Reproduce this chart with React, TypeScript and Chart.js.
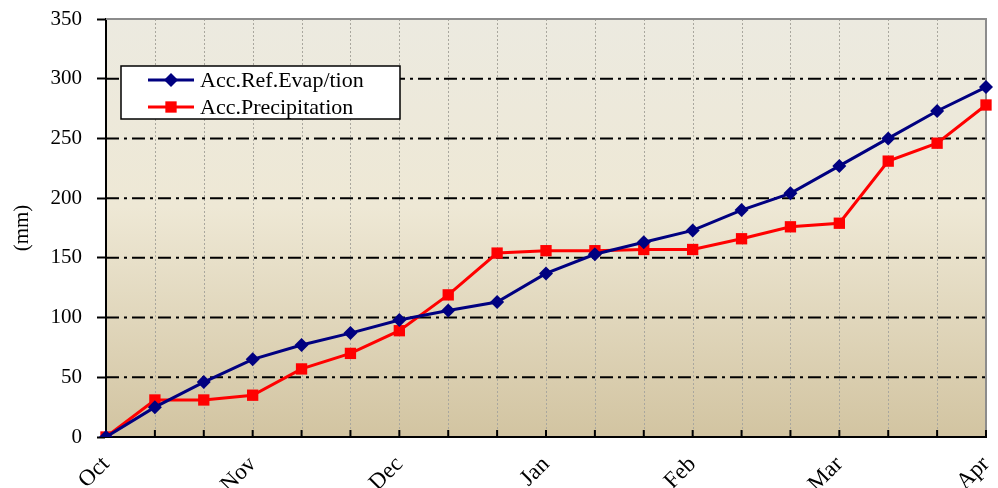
import React, { useEffect, useRef } from "react";
import { Chart, registerables } from "chart.js";

Chart.register(...registerables);

const labels = ["Oct", "", "", "Nov", "", "", "Dec", "", "", "Jan", "", "", "Feb", "", "", "Mar", "", "", "Apr"];
const evapName = "Acc.Ref.Evap/tion";
const precipName = "Acc.Precipitation";
const evap = [0, 25, 46, 65, 77, 87, 98, 106, 113, 137, 153, 163, 173, 190, 204, 227, 250, 273, 293];
const precip = [0, 31, 31, 35, 57, 70, 89, 119, 154, 156, 156, 157, 157, 166, 176, 179, 231, 246, 278];
const yMin = 0;
const yMax = 350;
const yStep = 50;
const yTitle = "(mm)";

const FONT = "'Liberation Serif', 'Times New Roman', serif";
const NAVY = "#000080";
const RED = "#FF0000";

function drawMarker(ctx: CanvasRenderingContext2D, style: string, x: number, y: number, r: number, color: string) {
  ctx.save();
  ctx.fillStyle = color;
  ctx.beginPath();
  if (style === "rectRot") {
    ctx.moveTo(x, y - r);
    ctx.lineTo(x + r, y);
    ctx.lineTo(x, y + r);
    ctx.lineTo(x - r, y);
    ctx.closePath();
  } else {
    const s = r * Math.SQRT1_2;
    ctx.rect(x - s, y - s, 2 * s, 2 * s);
  }
  ctx.fill();
  ctx.restore();
}

const decorPlugin = {
  id: "decor",
  beforeDraw(chart: any) {
    const { ctx, chartArea } = chart;
    const { left, top, right, bottom } = chartArea;
    const g = ctx.createLinearGradient(0, top, 0, bottom);
    g.addColorStop(0, "#ECEAE0");
    g.addColorStop(0.45, "#EEE8D5");
    g.addColorStop(1, "#D2C4A1");
    ctx.save();
    ctx.fillStyle = g;
    ctx.fillRect(left, top, right - left, bottom - top);
    ctx.restore();
  },
  beforeDatasetsDraw(chart: any) {
    const { ctx, chartArea, scales } = chart;
    const { left, top, right, bottom } = chartArea;
    const xs = scales.x;
    const ys = scales.y;
    ctx.save();
    ctx.strokeStyle = "#A9A79E";
    ctx.lineWidth = 1;
    ctx.setLineDash([2, 2]);
    for (let i = 1; i < labels.length - 1; i++) {
      const x = Math.round(xs.getPixelForValue(i)) + 0.5;
      ctx.beginPath();
      ctx.moveTo(x, top);
      ctx.lineTo(x, bottom);
      ctx.stroke();
    }
    ctx.strokeStyle = "#000000";
    ctx.lineWidth = 2;
    ctx.setLineDash([13, 5, 3, 5]);
    for (let v = yMin + yStep; v < yMax; v += yStep) {
      const y = ys.getPixelForValue(v);
      ctx.beginPath();
      ctx.moveTo(left, y);
      ctx.lineTo(right, y);
      ctx.stroke();
    }
    ctx.setLineDash([]);
    ctx.strokeStyle = "#8C8C8C";
    ctx.lineWidth = 2;
    ctx.beginPath();
    ctx.moveTo(left, top);
    ctx.lineTo(right, top);
    ctx.lineTo(right, bottom);
    ctx.stroke();
    ctx.strokeStyle = "#000000";
    ctx.lineWidth = 2;
    for (let i = 1; i < labels.length; i++) {
      const x = xs.getPixelForValue(i);
      ctx.beginPath();
      ctx.moveTo(x, bottom);
      ctx.lineTo(x, bottom - 7);
      ctx.stroke();
    }
    ctx.beginPath();
    ctx.moveTo(left - 1, bottom);
    ctx.lineTo(right + 1, bottom);
    ctx.stroke();
    ctx.restore();
  },
  afterDatasetsDraw(chart: any) {
    const { ctx, chartArea } = chart;
    const x0 = chartArea.left + 15;
    const y0 = chartArea.top + 47;
    const w = 279;
    const h = 53;
    ctx.save();
    ctx.fillStyle = "#FFFFFF";
    ctx.fillRect(x0, y0, w, h);
    ctx.strokeStyle = "#000000";
    ctx.lineWidth = 1.5;
    ctx.strokeRect(x0, y0, w, h);
    const rows = [
      { name: evapName, color: NAVY, style: "rectRot", r: 7, y: y0 + 14 },
      { name: precipName, color: RED, style: "rect", r: 8, y: y0 + 41 },
    ];
    for (const row of rows) {
      ctx.strokeStyle = row.color;
      ctx.lineWidth = 3;
      ctx.beginPath();
      ctx.moveTo(x0 + 27, row.y);
      ctx.lineTo(x0 + 73, row.y);
      ctx.stroke();
      drawMarker(ctx, row.style, x0 + 50, row.y, row.r, row.color);
      ctx.fillStyle = "#000000";
      ctx.font = `22px ${FONT}`;
      ctx.textAlign = "left";
      ctx.textBaseline = "middle";
      ctx.fillText(row.name, x0 + 79, row.y + 1);
    }
    ctx.restore();
  },
};

export default function App() {
  const ref = useRef<HTMLCanvasElement | null>(null);
  useEffect(() => {
    if (!ref.current) return;
    const chart = new Chart(ref.current, {
      type: "line",
      data: {
        labels,
        datasets: [
          {
            label: evapName,
            data: evap,
            borderColor: NAVY,
            backgroundColor: NAVY,
            borderWidth: 3,
            pointStyle: "rectRot",
            pointRadius: 7,
            pointBorderWidth: 0,
            pointHoverRadius: 7,
            tension: 0,
          },
          {
            label: precipName,
            data: precip,
            borderColor: RED,
            backgroundColor: RED,
            borderWidth: 3,
            pointStyle: "rect",
            pointRadius: 8,
            pointBorderWidth: 0,
            pointHoverRadius: 8,
            tension: 0,
          },
        ],
      },
      options: {
        animation: false,
        responsive: false,
        maintainAspectRatio: false,
        layout: { padding: { top: 19, right: 12, left: 0, bottom: 0 } },
        plugins: {
          legend: { display: false },
          tooltip: { enabled: false },
        },
        scales: {
          x: {
            type: "category",
            offset: false,
            grid: { display: false, drawTicks: false },
            border: { display: true, color: "#000000", width: 2 },
            ticks: {
              autoSkip: false,
              maxRotation: 45,
              minRotation: 45,
              padding: 14,
              color: "#000000",
              font: { family: FONT, size: 23 },
            },
            afterFit: (s: any) => {
              s.height = 51;
              s.paddingLeft = 0;
              s.paddingRight = 0;
            },
          },
          y: {
            min: yMin,
            max: yMax,
            ticks: {
              stepSize: yStep,
              padding: 15,
              color: "#000000",
              font: { family: FONT, size: 21 },
            },
            grid: {
              display: true,
              drawOnChartArea: false,
              drawTicks: true,
              tickLength: 9,
              tickColor: "#000000",
              tickWidth: 2,
            },
            border: { display: true, color: "#000000", width: 2 },
            title: {
              display: true,
              text: yTitle,
              color: "#000000",
              font: { family: FONT, size: 21 },
              padding: { top: 10, bottom: 0 },
            },
            afterFit: (s: any) => {
              s.width = 106;
              s.paddingTop = 0;
              s.paddingBottom = 0;
            },
          },
        },
      },
      plugins: [decorPlugin],
    });
    return () => chart.destroy();
  }, []);
  return (
    <div style={{ position: "absolute", left: 0, top: 0, width: 998, height: 488 }}>
      <canvas ref={ref} width={998} height={488} style={{ display: "block", width: 998, height: 488 }} />
    </div>
  );
}
